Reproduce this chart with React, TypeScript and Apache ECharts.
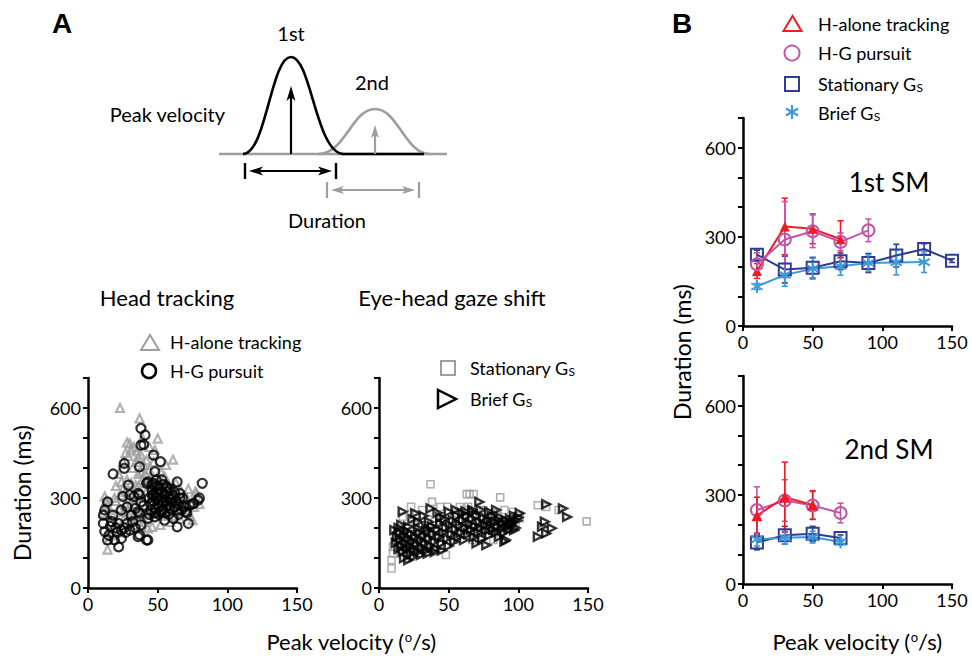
import React, { useEffect, useRef } from 'react';
import * as echarts from 'echarts';

const FONT = 'Lato';

// Panel A, head tracking: [peak velocity (deg/s), duration (ms)]
const hAloneTracking: [number, number][] = [
  [23,600],[37,565],[50,498],[61,428],[28,485],[31,462],[27,450],[36,437],[42,426],[30,482],[33,470],[24,354],[34,343],[24,310],[12,305],[14,276],[30,276],[43,199],[52,210],[14,128],[26,254],[38,387],[45,365],[77,321],[75,226],[46,204],[55,371],[71,299],[78,316],[80,280],[20,290],[22,265],[18,240],[16,220],[11,250],[13,290],[19,300],[25,330],[28,360],[32,400],[35,420],[38,445],[40,410],[41,380],[44,395],[47,420],[39,360],[36,340],[33,310],[29,295],[27,280],[26,230],[30,240],[35,260],[37,300],[42,320],[45,300],[48,340],[50,360],[53,330],[55,300],[58,280],[60,260],[62,240],[65,300],[68,280],[70,260],[73,240],[57,350],[49,270],[46,250],[43,230],[40,220],[38,205],[34,210],[31,225],[21,200],[17,175],[15,160],[23,185],[60,330],[63,350],[67,320],[52,390],[56,410],[48,460],[44,470],[39,500],[35,455],[29,440],[25,420],[22,380],[20,340],[12,270],[15,195],[72,330],[76,270],[66,230],[59,220],[54,240],[41,270],[37,240],[33,280],[27,320],[31,350],[36,380],[42,350],[46,330],[51,305],[57,255]
];
const hgPursuit: [number, number][] = [
  [38,532],[41,510],[38,476],[40,478],[47,443],[52,421],[26,415],[26,399],[37,404],[18,380],[29,343],[47,349],[14,287],[30,310],[36,315],[38,287],[24,260],[12,260],[11,243],[18,243],[36,254],[31,243],[11,215],[17,221],[22,215],[28,215],[32,221],[38,210],[12,188],[24,193],[30,193],[36,171],[43,160],[14,160],[19,160],[24,165],[22,137],[48,265],[46,310],[43,354],[64,354],[82,349],[79,293],[76,282],[73,276],[70,254],[64,260],[72,215],[64,204],[42,160],[37,177],[43,232],[48,237],[55,226],[61,232],[59,265],[52,254],[45,260],[47,310],[42,349],[49,360],[57,332],[61,310],[54,287],[66,299],[48,388],[37,310],[37,249],[50,340],[51,330],[53,320],[55,310],[49,300],[52,295],[56,290],[58,300],[60,285],[50,280],[53,275],[47,290],[45,280],[44,300],[46,325],[54,345],[57,320],[59,330],[62,320],[63,290],[65,280],[62,270],[58,245],[55,250],[51,245],[48,250],[44,245],[66,315],[68,300],[67,260],[65,245],[57,275],[54,260],[50,315],[46,345],[53,360],[49,320],[56,340],[60,300],[20,200],[16,205],[26,200],[15,175],[34,200],[27,185],[21,185],[40,275],[34,265],[28,270],[33,305],[25,305],[75,280],[71,250],[80,300],[69,270]
];

// Panel A, eye-head gaze shift
const stationaryGs: [number, number][] = [
  [37,346],[63,313],[23,271],[31,260],[17,237],[38,287],[49,271],[10,137],[10,115],[9,93],[9,65],[20,121],[14,154],[48,110],[62,260],[65,313],[68,313],[87,302],[114,276],[129,260],[64,271],[96,254],[82,249],[101,232],[67,160],[82,160],[15,200],[18,180],[22,150],[25,130],[28,170],[30,210],[33,140],[35,230],[40,200],[42,170],[45,240],[50,220],[52,180],[55,250],[58,200],[60,230],[66,190],[70,240],[72,210],[75,260],[78,230],[80,200],[85,240],[88,220],[90,260],[92,200],[95,230],[98,215],[100,240],[12,170],[16,130],[20,100],[26,210],[36,190],[44,150],[54,160],[74,170],[84,185],[58,270],[44,270],[27,245],[149,222],[120,270]
];
const briefGs: [number, number][] = [
  [17,254],[26,249],[37,265],[50,254],[11,193],[21,204],[28,199],[34,199],[21,93],[60,249],[67,254],[72,287],[120,279],[132,265],[67,260],[73,260],[79,254],[84,260],[101,249],[119,221],[117,204],[124,199],[120,182],[114,171],[91,160],[70,149],[77,143],[86,226],[94,215],[97,193],[135,237],
  [12,150],[13,170],[14,130],[15,160],[15,185],[16,140],[17,120],[18,175],[19,150],[20,130],[20,190],[21,165],[22,140],[23,115],[23,180],[24,155],[25,130],[26,170],[27,145],[28,120],[29,185],[30,160],[31,135],[32,175],[33,150],[34,125],[35,190],[36,165],[37,140],[38,205],[39,180],[40,155],[41,130],[42,195],[43,170],[44,215],[45,150],[46,185],[47,230],[48,200],[49,165],[50,140],[51,210],[52,180],[53,225],[54,155],[55,195],[56,240],[57,170],[58,210],[59,185],[60,225],[61,160],[62,200],[63,240],[64,180],[65,215],[66,195],[67,230],[68,170],[69,205],[70,240],[71,185],[72,220],[73,200],[74,165],[75,235],[76,210],[77,190],[78,225],[79,175],[80,210],[81,240],[82,195],[83,220],[84,185],[85,205],[86,170],[87,235],[88,200],[89,215],[90,185],[91,225],[92,205],[93,195],[94,230],[95,210],[96,220],[97,240],[98,200],[99,225],[100,235],[90,155],[18,100],[25,105],[30,110],[35,115],[40,120],[45,125],[14,200],[16,210],[24,230],[32,240],[42,250],[55,260],[62,255],[44,235],[36,220],[28,220]
];

// Panel B, 1st SM
const sm1HAloneX = [10, 30, 50, 70];
const sm1HAloneY = [185, 335, 327, 292];
const sm1HAloneErr = [25, 95, 50, 62];
const sm1PursuitX = [10, 30, 50, 70, 90];
const sm1PursuitY = [208, 291, 319, 283, 322];
const sm1PursuitErr = [38, 128, 55, 30, 38];
const sm1StationaryX = [10, 30, 50, 70, 90, 110, 130, 150];
const sm1StationaryY = [240, 190, 196, 218, 212, 237, 259, 220];
const sm1StationaryErr = [15, 45, 35, 28, 32, 38, 18, 6];
const sm1BriefX = [10, 30, 50, 70, 90, 110, 130];
const sm1BriefY = [133, 172, 193, 201, 212, 214, 215];
const sm1BriefErr = [10, 38, 35, 30, 28, 42, 35];

// Panel B, 2nd SM
const sm2HAloneX = [10, 30, 50];
const sm2HAloneY = [230, 292, 266];
const sm2HAloneErr = [62, 118, 48];
const sm2PursuitX = [10, 30, 50, 70];
const sm2PursuitY = [249, 281, 264, 239];
const sm2PursuitErr = [78, 70, 47, 33];
const sm2StationaryX = [10, 30, 50, 70];
const sm2StationaryY = [140, 164, 169, 155];
const sm2StationaryErr = [25, 30, 25, 10];
const sm2BriefX = [10, 30, 50, 70];
const sm2BriefY = [150, 156, 158, 141];
const sm2BriefErr = [22, 22, 20, 10];

const xTicks = [0, 50, 100, 150];
const yLabelled = [0, 300, 600];

const RED = '#ed1c24';
const MAG = '#c355a9';
const DBLUE = '#2f3c96';
const LBLUE = '#3d9ad8';
const GRAY = '#9e9e9e';

const ASTERISK = 'path://M-1.5,-10L1.5,-10L1.5,10L-1.5,10Z M-9.41,-3.7L-7.91,-6.3L9.41,3.7L7.91,6.3Z M7.91,-6.3L9.41,-3.7L-7.91,6.3L-9.41,3.7Z';

function xAx(gi: number) {
  return {
    type: 'value', gridIndex: gi, min: xTicks[0], max: xTicks[xTicks.length - 1], interval: 50,
    axisLine: { show: true, onZero: false, lineStyle: { color: '#000', width: 2.5 } },
    axisTick: { show: true, length: 5, lineStyle: { color: '#000', width: 2 } },
    axisLabel: { color: '#000', fontSize: 18, fontFamily: FONT, margin: 7 },
    splitLine: { show: false },
  };
}
function yAx(gi: number) {
  return {
    type: 'value', gridIndex: gi, min: 0, max: 700, interval: 100,
    axisLine: { show: true, onZero: false, lineStyle: { color: '#000', width: 2.5 } },
    axisTick: { show: true, length: 5, lineStyle: { color: '#000', width: 2 } },
    axisLabel: {
      color: '#000', fontSize: 18, fontFamily: FONT, margin: 7,
      formatter: (v: number) => (yLabelled.includes(v) ? String(v) : ''),
    },
    splitLine: { show: false },
  };
}

function errSeries(xs: number[], ys: number[], es: number[], ai: number, color: string, z: number) {
  return {
    type: 'custom', xAxisIndex: ai, yAxisIndex: ai, z, silent: true,
    data: xs.map((x, i) => [x, ys[i], es[i]]),
    encode: { x: 0, y: 1 },
    renderItem: (_p: any, api: any) => {
      const x = api.value(0), y = api.value(1), e = api.value(2);
      const t = api.coord([x, y + e]);
      const b = api.coord([x, y - e]);
      const st = { stroke: color, lineWidth: 1.6 };
      return {
        type: 'group',
        children: [
          { type: 'line', shape: { x1: t[0], y1: t[1], x2: b[0], y2: b[1] }, style: st },
          { type: 'line', shape: { x1: t[0] - 3, y1: t[1], x2: t[0] + 3, y2: t[1] }, style: st },
          { type: 'line', shape: { x1: b[0] - 3, y1: b[1], x2: b[0] + 3, y2: b[1] }, style: st },
        ],
      };
    },
  };
}

function lineSeries(name: string, xs: number[], ys: number[], ai: number, color: string, symbol: string, size: any, filled: boolean, z: number) {
  return {
    name, type: 'line', xAxisIndex: ai, yAxisIndex: ai, z, silent: true,
    data: xs.map((x, i) => [x, ys[i]]),
    symbol, symbolSize: size, symbolKeepAspect: true, showAllSymbol: true,
    lineStyle: { color, width: 2 },
    itemStyle: filled
      ? { color, borderWidth: 0 }
      : { color: 'rgba(255,255,255,0)', borderColor: color, borderWidth: 2 },
  };
}

function txt(text: string, x: number, y: number, size: number, extra: any = {}, el: any = {}) {
  return {
    type: 'text', x, y, ...el,
    style: {
      text, fontSize: size, fontFamily: FONT, fill: '#000',
      align: 'center', verticalAlign: 'middle', textAlign: 'center', textVerticalAlign: 'middle',
      ...extra,
    },
  };
}

const subRich = {
  s: { fontSize: 12, fontFamily: FONT, fill: '#000', verticalAlign: 'bottom', padding: [6, 0, 0, 0] },
};
const supRich = {
  o: { fontSize: 13, fontFamily: FONT, fill: '#000', verticalAlign: 'top', padding: [0, 0, 7, 0] },
};

function arrowHead(tipX: number, tipY: number, dir: 'up' | 'left' | 'right', len: number, half: number, color: string) {
  let pts: number[][] = [];
  if (dir === 'up') pts = [[tipX, tipY], [tipX - half, tipY + len], [tipX, tipY + len * 0.75], [tipX + half, tipY + len]];
  if (dir === 'left') pts = [[tipX, tipY], [tipX + len, tipY - half], [tipX + len * 0.75, tipY], [tipX + len, tipY + half]];
  if (dir === 'right') pts = [[tipX, tipY], [tipX - len, tipY - half], [tipX - len * 0.75, tipY], [tipX - len, tipY + half]];
  return { type: 'polygon', shape: { points: pts }, style: { fill: color } };
}

function seg(x1: number, y1: number, x2: number, y2: number, color: string, w: number) {
  return { type: 'line', shape: { x1, y1, x2, y2 }, style: { stroke: color, lineWidth: w } };
}
function bez(x1: number, y1: number, cpx1: number, cpy1: number, cpx2: number, cpy2: number, x2: number, y2: number, color: string) {
  return { type: 'bezierCurve', shape: { x1, y1, cpx1, cpy1, cpx2, cpy2, x2, y2 }, style: { stroke: color, lineWidth: 2.6, fill: null } };
}

export default function App() {
  const ref = useRef<HTMLDivElement>(null);
  useEffect(() => {
    if (!ref.current) return;
    const chart = echarts.init(ref.current, undefined, { renderer: 'svg' });

    const graphic: any[] = [
      // schematic
      seg(219, 154, 447, 154, GRAY, 2.6),
      bez(318, 154, 345, 154, 352, 109, 375, 109, GRAY),
      bez(375, 109, 398, 109, 405, 154, 430, 154, GRAY),
      seg(342, 154, 424, 154, '#000', 2.6),
      bez(243, 154, 266, 154, 271, 57, 291, 57, '#000'),
      bez(291, 57, 311, 57, 316, 152, 343, 154, '#000'),
      seg(291, 154, 291, 96, '#000', 2.2),
      arrowHead(291, 86, 'up', 15, 4.5, '#000'),
      seg(375, 154, 375, 134, GRAY, 2.2),
      arrowHead(375, 125, 'up', 13, 4, GRAY),
      seg(245, 163, 245, 179, '#000', 2.4),
      seg(336, 163, 336, 179, '#000', 2.4),
      seg(255, 171, 326, 171, '#000', 2.2),
      arrowHead(249, 171, 'left', 14, 4.5, '#000'),
      arrowHead(332, 171, 'right', 14, 4.5, '#000'),
      seg(327, 182, 327, 198, GRAY, 2.2),
      seg(419, 182, 419, 198, GRAY, 2.2),
      seg(337, 190, 409, 190, GRAY, 2),
      arrowHead(331, 190, 'left', 13, 4, GRAY),
      arrowHead(415, 190, 'right', 13, 4, GRAY),
      txt('1st', 291, 33, 20),
      txt('2nd', 372, 82, 20),
      txt('Peak velocity', 225, 114, 20, { align: 'right', textAlign: 'right' }),
      txt('Duration', 327, 220, 20),
      // panel letters
      txt('A', 62, 23, 28, { fontWeight: 'bold', fontFamily: 'Liberation Sans' }),
      txt('B', 682, 23, 28, { fontWeight: 'bold', fontFamily: 'Liberation Sans' }),
      // A titles
      txt('Head tracking', 167, 297, 22),
      txt('Eye-head gaze shift', 452, 297, 22),
      // A legend left
      { type: 'polygon', shape: { points: [[150, 335], [141, 350], [159, 350]] }, style: { fill: 'none', stroke: GRAY, lineWidth: 2 } },
      txt('H-alone tracking', 170, 342, 18, { align: 'left', textAlign: 'left' }),
      { type: 'circle', shape: { cx: 149, cy: 371, r: 7 }, style: { fill: 'none', stroke: '#000', lineWidth: 2.5 } },
      txt('H-G pursuit', 170, 371, 18, { align: 'left', textAlign: 'left' }),
      // A legend middle
      { type: 'rect', shape: { x: 441, y: 361, width: 14, height: 14 }, style: { fill: 'none', stroke: GRAY, lineWidth: 2 } },
      txt('Stationary G{s|S}', 470, 368, 18, { align: 'left', textAlign: 'left', rich: subRich }),
      { type: 'polygon', shape: { points: [[438, 390], [438, 408], [456, 399]] }, style: { fill: 'none', stroke: '#000', lineWidth: 2.5 } },
      txt('Brief G{s|S}', 470, 399, 18, { align: 'left', textAlign: 'left', rich: subRich }),
      // axis titles
      txt('Duration (ms)', 22, 493, 23, {}, { rotation: Math.PI / 2 }),
      txt('Duration (ms)', 682, 352, 23, {}, { rotation: Math.PI / 2 }),
      txt('Peak velocity ({o|o}/s)', 351, 641, 22, { rich: supRich }),
      txt('Peak velocity ({o|o}/s)', 857, 641, 22, { rich: supRich }),
      // B labels
      txt('1st SM', 889, 182, 26),
      txt('2nd SM', 889, 449, 26),
      // B legend
      { type: 'polygon', shape: { points: [[792.5, 16], [783.5, 31], [801.5, 31]] }, style: { fill: 'none', stroke: RED, lineWidth: 2 } },
      txt('H-alone tracking', 818, 24, 18, { align: 'left', textAlign: 'left' }),
      { type: 'circle', shape: { cx: 792, cy: 53, r: 7.5 }, style: { fill: 'none', stroke: MAG, lineWidth: 2 } },
      txt('H-G pursuit', 818, 53, 18, { align: 'left', textAlign: 'left' }),
      { type: 'rect', shape: { x: 785, y: 77, width: 14, height: 14 }, style: { fill: 'none', stroke: DBLUE, lineWidth: 2 } },
      txt('Stationary G{s|S}', 818, 84, 18, { align: 'left', textAlign: 'left', rich: subRich }),
      seg(792, 105, 792, 119, LBLUE, 2.2),
      seg(785.9, 108.5, 798.1, 115.5, LBLUE, 2.2),
      seg(785.9, 115.5, 798.1, 108.5, LBLUE, 2.2),
      txt('Brief G{s|S}', 818, 113, 18, { align: 'left', textAlign: 'left', rich: subRich }),
    ];

    const hollow = (c: string, w: number) => ({ color: 'rgba(0,0,0,0)', borderColor: c, borderWidth: w });

    const option: any = {
      animation: false,
      backgroundColor: '#fff',
      grid: [
        { left: 88, top: 378, width: 209, height: 210 },
        { left: 379, top: 378, width: 209, height: 210 },
        { left: 743, top: 118, width: 209, height: 208 },
        { left: 743, top: 376, width: 209, height: 208 },
      ],
      xAxis: [xAx(0), xAx(1), xAx(2), xAx(3)],
      yAxis: [yAx(0), yAx(1), yAx(2), yAx(3)],
      series: [
        { name: 'H-alone tracking', type: 'scatter', xAxisIndex: 0, yAxisIndex: 0, data: hAloneTracking, symbol: 'triangle', symbolSize: 8, itemStyle: hollow(GRAY, 2.2), silent: true },
        { name: 'H-G pursuit', type: 'scatter', xAxisIndex: 0, yAxisIndex: 0, data: hgPursuit, symbol: 'circle', symbolSize: 9, itemStyle: hollow('#000', 2.2), silent: true },
        { name: 'Stationary GS', type: 'scatter', xAxisIndex: 1, yAxisIndex: 1, data: stationaryGs, symbol: 'rect', symbolSize: 7, itemStyle: hollow(GRAY, 1.6), silent: true },
        { name: 'Brief GS', type: 'scatter', xAxisIndex: 1, yAxisIndex: 1, data: briefGs, symbol: 'triangle', symbolRotate: -90, symbolSize: 8, itemStyle: hollow('#000', 2.4), silent: true },

        errSeries(sm1StationaryX, sm1StationaryY, sm1StationaryErr, 2, DBLUE, 2),
        errSeries(sm1BriefX, sm1BriefY, sm1BriefErr, 2, LBLUE, 2),
        errSeries(sm1HAloneX, sm1HAloneY, sm1HAloneErr, 2, RED, 2),
        errSeries(sm1PursuitX, sm1PursuitY, sm1PursuitErr, 2, MAG, 2),
        lineSeries('Stationary GS 1', sm1StationaryX, sm1StationaryY, 2, DBLUE, 'rect', 12, false, 3),
        lineSeries('Brief GS 1', sm1BriefX, sm1BriefY, 2, LBLUE, ASTERISK, 13, true, 3),
        lineSeries('H-alone 1', sm1HAloneX, sm1HAloneY, 2, RED, 'triangle', 10, true, 4),
        lineSeries('H-G pursuit 1', sm1PursuitX, sm1PursuitY, 2, MAG, 'circle', 12, false, 4),

        errSeries(sm2StationaryX, sm2StationaryY, sm2StationaryErr, 3, DBLUE, 2),
        errSeries(sm2BriefX, sm2BriefY, sm2BriefErr, 3, LBLUE, 2),
        errSeries(sm2PursuitX, sm2PursuitY, sm2PursuitErr, 3, MAG, 2),
        errSeries(sm2HAloneX, sm2HAloneY, sm2HAloneErr, 3, RED, 2),
        lineSeries('Stationary GS 2', sm2StationaryX, sm2StationaryY, 3, DBLUE, 'rect', 12, false, 3),
        lineSeries('Brief GS 2', sm2BriefX, sm2BriefY, 3, LBLUE, ASTERISK, 13, true, 3),
        lineSeries('H-G pursuit 2', sm2PursuitX, sm2PursuitY, 3, MAG, 'circle', 12, false, 4),
        lineSeries('H-alone 2', sm2HAloneX, sm2HAloneY, 3, RED, 'triangle', 11, true, 4),
      ],
      graphic,
    };
    chart.setOption(option);
    return () => chart.dispose();
  }, []);
  return <div ref={ref} style={{ position: 'fixed', left: 0, top: 0, width: 972, height: 661, background: '#fff' }} />;
}
